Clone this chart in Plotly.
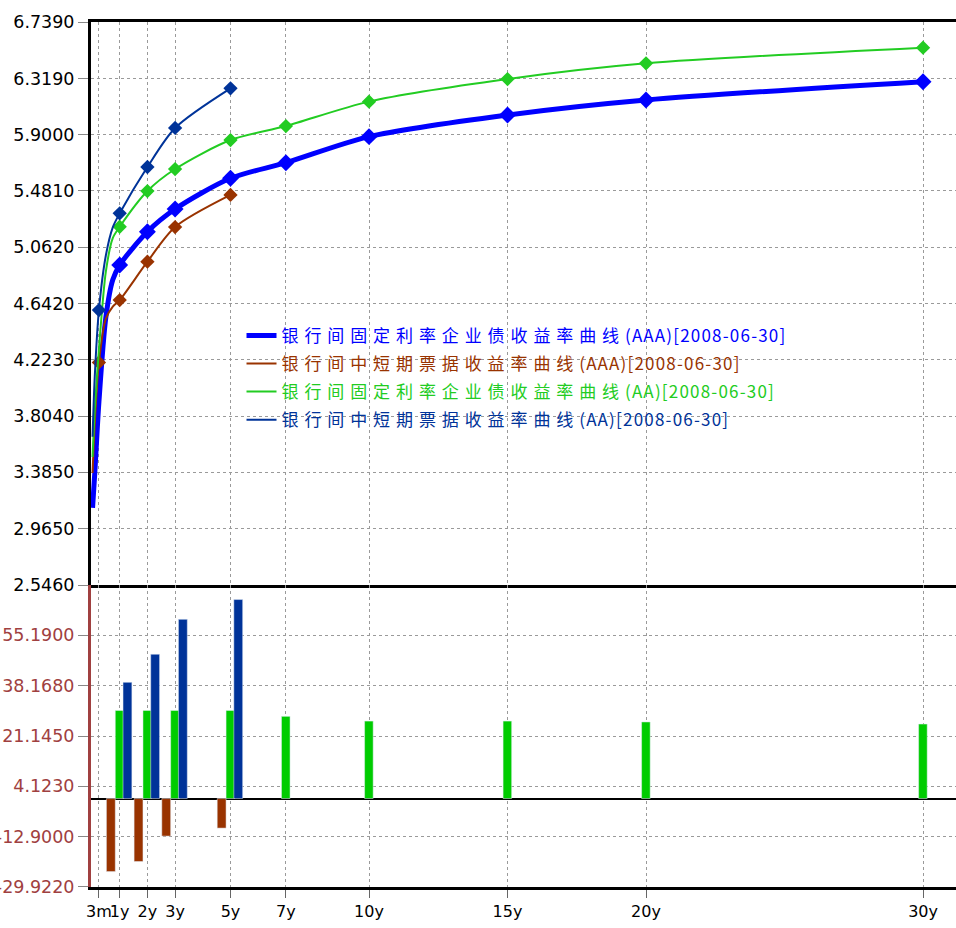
import plotly.graph_objects as go

# ---------------- data ----------------
tenor_labels = ["3m", "1y", "2y", "3y", "5y", "7y", "10y", "15y", "20y", "30y"]
tenor_years = [0.25, 1, 2, 3, 5, 7, 10, 15, 20, 30]

fix_tenors = [0.02, 0.1, 0.25, 0.5, 0.75, 1, 2, 3, 5, 7, 10, 15, 20, 30]
fix_aaa = [3.12, 3.38, 3.91, 4.54, 4.82, 4.929, 5.177, 5.346, 5.575, 5.691, 5.885, 6.046, 6.158, 6.294]
fix_aa = [3.50, 3.85, 4.30, 4.88, 5.13, 5.214, 5.480, 5.644, 5.860, 5.964, 6.146, 6.314, 6.431, 6.548]

note_tenors = [0.02, 0.1, 0.25, 0.5, 0.75, 1, 2, 3, 5]
note_aaa = [3.38, 3.75, 4.204, 4.53, 4.62, 4.668, 4.954, 5.212, 5.451]
note_aa = [3.65, 4.10, 4.594, 5.00, 5.21, 5.314, 5.659, 5.950, 6.245]

fix_marked = [1, 2, 3, 5, 7, 10, 15, 20, 30]
note_marked = [0.25, 1, 2, 3, 5]

spread_note_tenors = [1, 2, 3, 5]
spread_note_aaa = [-24.7, -21.3, -12.7, -10.0]
spread_note_aa = [39.3, 48.8, 60.6, 67.3]
spread_fix_tenors = [1, 2, 3, 5, 7, 10, 15, 20, 30]
spread_fix_aa = [29.8, 29.8, 29.8, 29.8, 27.8, 26.2, 26.2, 25.9, 25.2]

y1_ticks = [2.546, 2.965, 3.385, 3.804, 4.223, 4.642, 5.062, 5.481, 5.900, 6.319, 6.739]
y1_labels = ["2.5460", "2.9650", "3.3850", "3.8040", "4.2230", "4.6420",
             "5.0620", "5.4810", "5.9000", "6.3190", "6.7390"]
y2_ticks = [-29.922, -12.900, 4.123, 21.145, 38.168, 55.190]
y2_labels = ["-29.9220", "-12.9000", "4.1230", "21.1450", "38.1680", "55.1900"]

names_cjk = ["银行间固定利率企业债收益率曲线", "银行间中短期票据收益率曲线",
             "银行间固定利率企业债收益率曲线", "银行间中短期票据收益率曲线"]
names_tail = ["(AAA)[2008-06-30]", "(AAA)[2008-06-30]", "(AA)[2008-06-30]", "(AA)[2008-06-30]"]

# ---------------- styles ----------------
C_BLUE = "#0000FF"
C_BROWN = "#993300"
C_GREEN = "#22CC22"
C_DARK = "#003399"


def legend_name(i, color):
    return ('<span style="color:%s;letter-spacing:5.9px">%s</span>'
            '<span style="color:%s;letter-spacing:1.2px">%s</span>'
            % (color, names_cjk[i], color, names_tail[i]))


fig = go.Figure()

series = [
    (fix_tenors, fix_aaa, fix_marked, C_BLUE, 5, 13),
    (note_tenors, note_aaa, note_marked, C_BROWN, 2, 11),
    (fix_tenors, fix_aa, fix_marked, C_GREEN, 2, 11),
    (note_tenors, note_aa, note_marked, C_DARK, 2, 11),
]
for i, (tx, ty, mk, col, lw, ms) in enumerate(series):
    fig.add_trace(go.Scatter(
        x=tx, y=ty, mode="lines", name=legend_name(i, col), legendgroup="g%d" % i,
        line=dict(color=col, width=lw, shape="spline", smoothing=0.8),
        xaxis="x", yaxis="y", hoverinfo="skip"))
    mx = [t for t in tx if t in mk]
    my = [v for t, v in zip(tx, ty) if t in mk]
    fig.add_trace(go.Scatter(
        x=mx, y=my, mode="markers", showlegend=False,
        marker=dict(symbol="diamond", size=ms, color=col),
        xaxis="x", yaxis="y", hoverinfo="skip"))

fig.add_trace(go.Bar(x=spread_note_tenors, y=spread_note_aaa, marker_color=C_BROWN,
                     width=0.32, offset=-0.48, showlegend=False, xaxis="x2", yaxis="y2"))
fig.add_trace(go.Bar(x=spread_fix_tenors, y=spread_fix_aa, marker_color="#00CC00",
                     width=0.31, offset=-0.16, showlegend=False, xaxis="x2", yaxis="y2"))
fig.add_trace(go.Bar(x=spread_note_tenors, y=spread_note_aa, marker_color=C_DARK,
                     width=0.32, offset=0.12, showlegend=False, xaxis="x2", yaxis="y2"))

FONT = "DejaVu Sans"
split = 0.3491
xr = [-0.036, 31.19]
grid = dict(showgrid=True, gridcolor="#9A9A9A", griddash="dot", gridwidth=1)

fig.update_layout(
    width=956, height=928,
    margin=dict(l=91, r=0, t=22, b=41, autoexpand=False),
    paper_bgcolor="white", plot_bgcolor="white",
    barmode="overlay",
    font=dict(family=FONT, size=16, color="black"),
    xaxis=dict(domain=[0, 1], anchor="y", range=xr, tickvals=tenor_years,
               showticklabels=False, ticks="", showline=True, linecolor="black",
               linewidth=3, mirror=True, zeroline=False, automargin=False, **grid),
    yaxis=dict(domain=[split, 1], anchor="x", range=[2.546, 6.739],
               tickvals=y1_ticks, ticktext=y1_labels, ticks="outside", ticklen=10,
               tickcolor="#888888", showline=True, linecolor="black", linewidth=3,
               zeroline=False, automargin=False,
               tickfont=dict(family=FONT, size=17.5, color="black"), **grid),
    xaxis2=dict(domain=[0, 1], anchor="y2", range=xr, tickvals=tenor_years,
                ticktext=tenor_labels, ticks="outside", ticklen=8, tickcolor="#666666",
                tickangle=0, showline=True, linecolor="black", linewidth=3,
                zeroline=False, automargin=False,
                tickfont=dict(family=FONT, size=16, color="black"), **grid),
    yaxis2=dict(domain=[0, split], anchor="x2", range=[-29.922, 72.212],
                tickvals=y2_ticks, ticktext=y2_labels, ticks="outside", ticklen=10,
                tickcolor="#888888", showline=True, linecolor="#A04040", linewidth=3,
                zeroline=True, zerolinecolor="black", zerolinewidth=1.5, automargin=False,
                tickfont=dict(family=FONT, size=17.5, color="#A04040"), **grid),
    legend=dict(x=0.174, y=0.658, xanchor="left", yanchor="top",
                bgcolor="rgba(0,0,0,0)", borderwidth=0, tracegroupgap=3,
                font=dict(family="Noto Sans CJK SC", size=17)),
    showlegend=True,
)

fig.write_html("out.html", config={"displayModeBar": False},
               post_script="document.body.style.margin='0px';")
